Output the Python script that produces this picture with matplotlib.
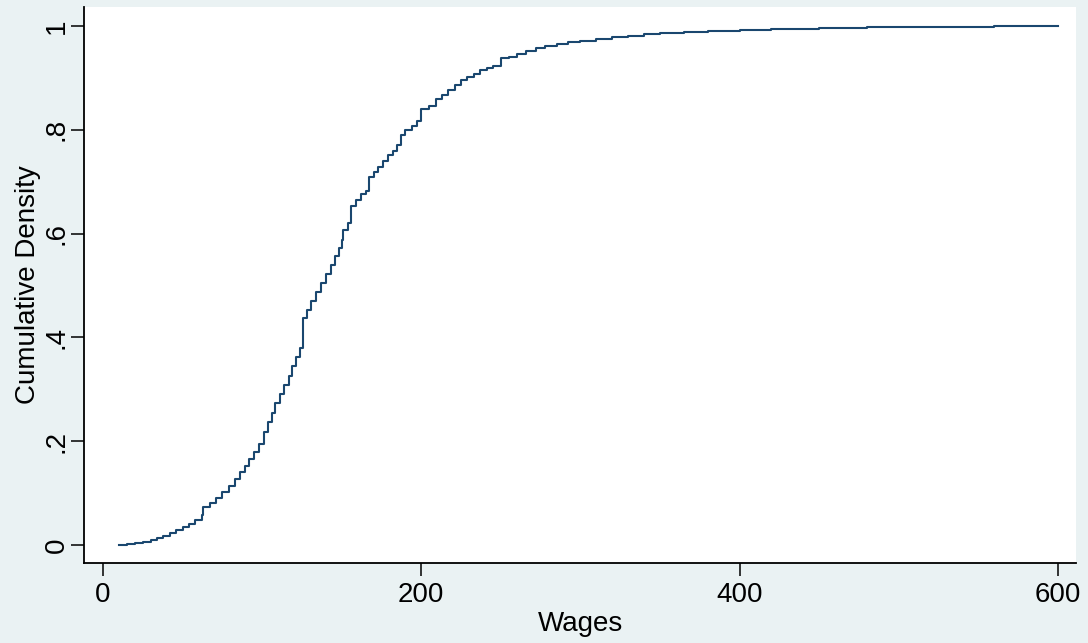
import matplotlib
matplotlib.use("Agg")
import matplotlib.pyplot as plt

wages = [10, 15, 20, 25, 30, 34, 38, 42, 46, 50, 54, 58, 62, 63, 67, 71, 75, 79,
         83, 86, 89, 92, 95, 98, 101, 104, 106, 108, 111, 114, 117, 119, 121,
         123.5, 125.5, 128, 131, 134, 137, 140, 143, 146, 148, 150, 151, 154,
         156, 159, 162, 165, 167, 170, 173, 176, 179, 182, 185, 187, 190, 194,
         197, 200, 205, 209, 213, 217, 221, 225, 229, 233, 237, 241, 245, 250,
         255, 260, 266, 272, 278, 285, 292, 300, 310, 320, 330, 340, 350, 365,
         380, 400, 420, 450, 480, 520, 560, 600]
cum_density = [0.000, 0.001, 0.003, 0.006, 0.009, 0.013, 0.018, 0.023, 0.028,
               0.034, 0.040, 0.048, 0.058, 0.073, 0.080, 0.090, 0.102, 0.114,
               0.127, 0.140, 0.152, 0.166, 0.180, 0.195, 0.217, 0.237, 0.254,
               0.273, 0.290, 0.308, 0.326, 0.345, 0.362, 0.379, 0.437, 0.452,
               0.470, 0.487, 0.505, 0.522, 0.540, 0.557, 0.573, 0.587, 0.606,
               0.621, 0.654, 0.664, 0.676, 0.683, 0.710, 0.718, 0.728, 0.740,
               0.751, 0.760, 0.771, 0.790, 0.800, 0.808, 0.817, 0.840, 0.845,
               0.860, 0.868, 0.877, 0.887, 0.896, 0.902, 0.908, 0.915, 0.919,
               0.922, 0.938, 0.940, 0.946, 0.952, 0.957, 0.962, 0.966, 0.969,
               0.972, 0.975, 0.978, 0.981, 0.984, 0.986, 0.989, 0.991, 0.993,
               0.995, 0.997, 0.998, 0.999, 0.9995, 1.000]

x_ticks = [0, 200, 400, 600]
x_tick_labels = ["0", "200", "400", "600"]
y_ticks = [0, 0.2, 0.4, 0.6, 0.8, 1.0]
y_tick_labels = ["0", ".2", ".4", ".6", ".8", "1"]

plt.rcParams['font.family'] = ['Liberation Sans', 'DejaVu Sans']

fig = plt.figure(figsize=(10.88, 6.43), dpi=100)
fig.patch.set_facecolor('#eaf2f3')
ax = fig.add_axes([84/1088, 1 - 563/643, (1076-84)/1088, (563-7)/643])
ax.set_facecolor('white')

ax.plot(wages, cum_density, drawstyle='steps-post', color='#1a476f', lw=1.5)

ax.set_xlim(-11.9, 611.3)
ax.set_ylim(-0.0347, 1.0366)

for s in ['top', 'right']:
    ax.spines[s].set_visible(False)
for s in ['left', 'bottom']:
    ax.spines[s].set_color('black')
    ax.spines[s].set_linewidth(1.3)

ax.set_xticks(x_ticks)
ax.set_xticklabels(x_tick_labels)
ax.set_yticks(y_ticks)
ax.set_yticklabels(y_tick_labels, rotation=90, va='center')
ax.tick_params(axis='both', direction='out', length=9.5, width=1.1,
               color='black', labelsize=20, labelcolor='black')
ax.tick_params(axis='x', pad=4)
ax.tick_params(axis='y', pad=1)

ax.set_xlabel("Wages", fontsize=20, labelpad=2)
ax.set_ylabel("Cumulative Density", fontsize=20, labelpad=2)

fig.savefig("out.png", dpi=100, facecolor=fig.get_facecolor())
